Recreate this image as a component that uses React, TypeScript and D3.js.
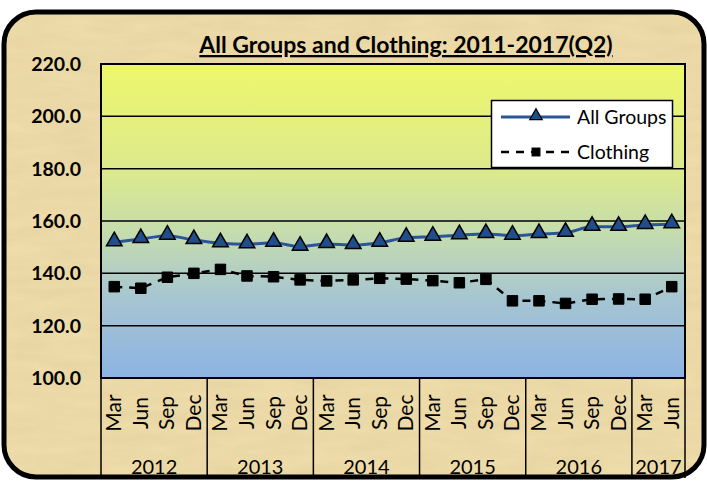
import React from "react";
import * as d3 from "d3";

const months = ["Mar","Jun","Sep","Dec","Mar","Jun","Sep","Dec","Mar","Jun","Sep","Dec","Mar","Jun","Sep","Dec","Mar","Jun","Sep","Dec","Mar","Jun"];
const years = ["2012","2013","2014","2015","2016","2017"];
const yearCounts = [4,4,4,4,4,2];
const allGroups = [151.9,153.1,154.4,152.7,151.5,151.1,151.7,150.2,151.2,150.8,151.7,153.6,154.0,154.6,155.0,154.4,155.0,155.5,157.8,157.8,158.5,158.8];
const clothing = [134.9,134.3,138.5,140.0,141.5,139.0,138.7,137.5,137.1,137.5,138.1,137.8,137.2,136.4,137.7,129.5,129.5,128.5,130.1,130.2,130.1,134.9];
const yTicks = [100,120,140,160,180,200,220];
const title = "All Groups and Clothing: 2011-2017(Q2)";
const seriesNames = ["All Groups","Clothing"];

const W = 707, H = 481;
const L = 101, R = 685, T = 64, B = 378;
const FONT = "Lato, 'Open Sans', sans-serif";

export default function App() {
  const x = d3.scaleBand<number>().domain(months.map((_, i) => i)).range([L, R]);
  const y = d3.scaleLinear().domain([100, 220]).range([B, T]);
  const cx = (i: number) => (x(i) as number) + x.bandwidth() / 2;
  const line = d3.line<number>().x((_, i) => cx(i)).y(d => y(d)).curve(d3.curveMonotoneX);
  const lineStraight = d3.line<number>().x((_, i) => cx(i)).y(d => y(d));
  const tri = d3.symbol().type(d3.symbolTriangle).size(105)();
  const sq = d3.symbol().type(d3.symbolSquare).size(110)();

  const bounds: number[] = [0];
  yearCounts.forEach(c => bounds.push(bounds[bounds.length - 1] + c));
  const bx = (k: number) => k >= months.length ? R : (x(k) as number);

  return (
    <svg width={W} height={H} style={{ position: "absolute", left: 0, top: 0, display: "block" }}>
      <defs>
        <linearGradient id="plotGrad" x1="0" y1="0" x2="0" y2="1">
          <stop offset="0" stopColor="#eef76a" />
          <stop offset="0.35" stopColor="#dbe98e" />
          <stop offset="0.55" stopColor="#c3dbb0" />
          <stop offset="0.75" stopColor="#a6c5d2" />
          <stop offset="1" stopColor="#8cb3e3" />
        </linearGradient>
        <filter id="papyrus" x="0" y="0" width="100%" height="100%">
          <feTurbulence type="fractalNoise" baseFrequency="0.02 0.09" numOctaves="3" seed="4" result="n" />
          <feColorMatrix type="matrix" values="0 0 0 0 0.55  0 0 0 0 0.42  0 0 0 0 0.2  0 0 0 0.5 -0.12" />
        </filter>
        <clipPath id="cardClip">
          <rect x={4} y={12} width={700} height={465} rx={32} />
        </clipPath>
      </defs>
      <rect x={0} y={0} width={W} height={H} fill="#ffffff" />
      <g clipPath="url(#cardClip)">
        <rect x={4} y={12} width={700} height={465} fill="#eedcaa" />
        <rect x={4} y={12} width={700} height={465} filter="url(#papyrus)" opacity={0.5} />
      </g>
      <rect x={4} y={12} width={700} height={465} rx={32} fill="none" stroke="#000" strokeWidth={5} />

      <text x={406} y={53} textAnchor="middle" fontFamily={FONT} fontWeight={700} fontSize={23} textDecoration="underline" fill="#000">{title}</text>

      <rect x={L} y={T} width={R - L} height={B - T} fill="url(#plotGrad)" />
      {yTicks.map(t => (
        <g key={t}>
          <line x1={L} x2={R} y1={y(t)} y2={y(t)} stroke="#000" strokeWidth={1.5} />
          <text x={81} y={y(t) + 7} textAnchor="end" fontFamily={FONT} fontWeight={700} fontSize={19.5} fill="#000">{t.toFixed(1)}</text>
        </g>
      ))}
      <rect x={L} y={T} width={R - L} height={B - T} fill="none" stroke="#000" strokeWidth={2} />

      {bounds.map((k, i) => (
        <line key={i} x1={bx(k)} x2={bx(k)} y1={B} y2={478} stroke="#000" strokeWidth={1.5} />
      ))}
      {months.map((m, i) => (
        <text key={i} transform={`translate(${cx(i) + 7},${413}) rotate(-90)`} textAnchor="middle" fontFamily={FONT} fontSize={21} fill="#000">{m}</text>
      ))}
      {years.map((yr, i) => (
        <text key={yr} x={(bx(bounds[i]) + bx(bounds[i + 1])) / 2} y={474} textAnchor="middle" fontFamily={FONT} fontSize={20} fill="#000">{yr}</text>
      ))}

      <path d={line(allGroups) || ""} fill="none" stroke="#2a5597" strokeWidth={3} />
      <path d={lineStraight(clothing) || ""} fill="none" stroke="#000" strokeWidth={2.5} strokeDasharray="8,7" />
      {allGroups.map((v, i) => (
        <path key={i} d={tri || ""} transform={`translate(${cx(i)},${y(v) - 1})`} fill="#1f4e8a" stroke="#000" strokeWidth={1.5} />
      ))}
      {clothing.map((v, i) => (
        <path key={i} d={sq || ""} transform={`translate(${cx(i)},${y(v)})`} fill="#000" stroke="#000" strokeWidth={1} />
      ))}

      <rect x={491.5} y={100.5} width={181} height={67} fill="#fff" stroke="#000" strokeWidth={1.5} />
      <line x1={501} x2={570} y1={117} y2={117} stroke="#2a5597" strokeWidth={3} />
      <path d={tri || ""} transform={`translate(536,116) scale(0.8)`} fill="#1f4e8a" stroke="#000" strokeWidth={1.5} />
      <text x={577} y={124} fontFamily={FONT} fontSize={19.5} fill="#000">{seriesNames[0]}</text>
      <line x1={501} x2={570} y1={152} y2={152} stroke="#000" strokeWidth={2.5} strokeDasharray="8,7" />
      <path d={sq || ""} transform={`translate(536,152) scale(0.85)`} fill="#000" />
      <text x={577} y={159} fontFamily={FONT} fontSize={19.5} fill="#000">{seriesNames[1]}</text>
    </svg>
  );
}
